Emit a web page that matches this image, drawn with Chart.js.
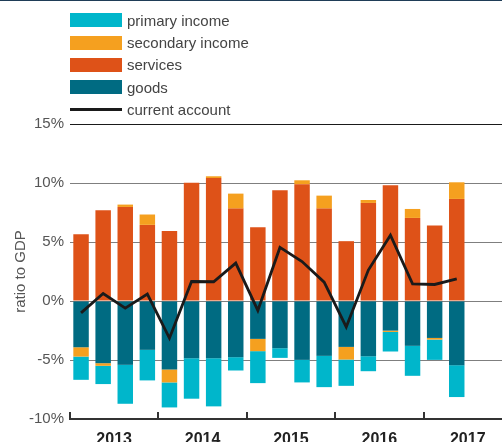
<!DOCTYPE html>
<html>
<head>
<meta charset="utf-8">
<script src="https://cdn.jsdelivr.net/npm/chart.js@4"></script>
<style>
  html, body { margin: 0; padding: 0; overflow: hidden; background: #fff; }
  #wrap { position: relative; width: 512px; height: 442px; }
  #topline { position: absolute; left: 0; top: 0; width: 512px; height: 1px; background: #1f3d57; }
  #legend { position: absolute; left: 70px; top: 9px; font: 15px "Liberation Sans", Arial, sans-serif; color: #444; }
  #legend .row { display: flex; align-items: center; height: 22.4px; }
  #legend .box { width: 52px; height: 14px; margin-right: 5px; }
  #legend .line { width: 52px; height: 3px; margin-right: 5px; background: #1a1a1a; }
</style>
</head>
<body>
<div id="wrap">
  <canvas id="chart"></canvas>
  <div id="topline"></div>
  <div id="legend"></div>
</div>
<script>
// quarters 2013 Q1 .. 2017 Q4 (last two quarters have no data yet)
const quarters = ['2013 Q1','2013 Q2','2013 Q3','2013 Q4','2014 Q1','2014 Q2','2014 Q3','2014 Q4',
  '2015 Q1','2015 Q2','2015 Q3','2015 Q4','2016 Q1','2016 Q2','2016 Q3','2016 Q4',
  '2017 Q1','2017 Q2','2017 Q3','2017 Q4'];
const years = ['2013', '2014', '2015', '2016', '2017'];

// components, % of GDP
const goods = [-3.92, -5.27, -5.41, -4.14, -5.80, -4.85, -4.85, -4.76, -3.21, -4.00, -4.99, -4.65, -3.89, -4.68, -2.51, -3.80, -3.13, -5.44];
const services = [5.66, 7.69, 7.97, 6.45, 5.94, 10.03, 10.42, 7.83, 6.26, 9.38, 9.89, 7.83, 5.07, 8.31, 9.81, 7.04, 6.40, 8.65];
const secondaryIncome = [-0.79, -0.22, 0.20, 0.88, -1.10, 0, 0.15, 1.27, -1.04, 0, 0.34, 1.10, -1.07, 0.25, -0.11, 0.76, -0.14, 1.41];
const primaryIncome = [-1.97, -1.55, -3.30, -2.59, -2.12, -3.43, -4.08, -1.13, -2.71, -0.82, -1.91, -2.65, -2.23, -1.27, -1.66, -2.54, -1.72, -2.70];
const currentAccount = [-1.01, 0.63, -0.60, 0.59, -3.15, 1.65, 1.63, 3.21, -0.80, 4.54, 3.34, 1.60, -2.20, 2.62, 5.58, 1.45, 1.40, 1.88];

const colors = {
  primary: '#00b6cb',
  secondary: '#f5a01f',
  services: '#de5218',
  goods: '#006b82',
  line: '#1a1a1a'
};
const fontFamily = '"Liberation Sans", Arial, sans-serif';

// legend (same order as the reference)
const legendItems = [
  { label: 'primary income', color: colors.primary },
  { label: 'secondary income', color: colors.secondary },
  { label: 'services', color: colors.services },
  { label: 'goods', color: colors.goods },
  { label: 'current account', line: true }
];
const legendEl = document.getElementById('legend');
legendItems.forEach(item => {
  const row = document.createElement('div');
  row.className = 'row';
  const mark = document.createElement('span');
  if (item.line) {
    mark.className = 'line';
  } else {
    mark.className = 'box';
    mark.style.background = item.color;
  }
  const txt = document.createElement('span');
  txt.textContent = item.label;
  row.appendChild(mark);
  row.appendChild(txt);
  legendEl.appendChild(row);
});

// upward tick marks at year boundaries on the x axis
const yearTicks = {
  id: 'yearTicks',
  afterDraw(chart) {
    const xs = chart.scales.x;
    const half = (xs.getPixelForValue(1) - xs.getPixelForValue(0)) / 2;
    const ctx = chart.ctx;
    const bottom = chart.chartArea.bottom;
    ctx.save();
    ctx.strokeStyle = '#333';
    ctx.lineWidth = 2;
    for (let i = 0; i < quarters.length; i += 4) {
      const x = Math.round(xs.getPixelForValue(i) - half);
      ctx.beginPath();
      ctx.moveTo(x, bottom + 1);
      ctx.lineTo(x, bottom - 7);
      ctx.stroke();
    }
    ctx.restore();
  }
};

const barSet = (label, data, color) => ({
  type: 'bar', label, data, backgroundColor: color, stack: 'cab', order: 1,
  barPercentage: 0.7, categoryPercentage: 1
});

new Chart(document.getElementById('chart'), {
  data: {
    labels: quarters,
    datasets: [
      barSet('goods', goods, colors.goods),
      barSet('services', services, colors.services),
      barSet('secondary income', secondaryIncome, colors.secondary),
      barSet('primary income', primaryIncome, colors.primary),
      {
        type: 'line', label: 'current account', data: currentAccount, stack: 'ca', order: 0,
        borderColor: colors.line, borderWidth: 2.8, pointRadius: 0, tension: 0, fill: false
      }
    ]
  },
  options: {
    responsive: true,
    maintainAspectRatio: false,
    animation: false,
    layout: { padding: { top: 124, bottom: 0, left: 0, right: 0 } },
    plugins: { legend: { display: false }, tooltip: { enabled: false } },
    scales: {
      x: {
        stacked: true,
        grid: { display: false },
        border: { display: true, color: '#333', width: 2 },
        afterFit(scale) { scale.height = 23; },
        ticks: {
          autoSkip: false, maxRotation: 0, padding: 3, labelOffset: 11,
          color: '#222', font: { family: fontFamily, size: 16, weight: 'bold' },
          callback: (v, i) => i % 4 === 1 ? years[Math.floor(i / 4)] : ''
        }
      },
      y: {
        stacked: true,
        min: -10, max: 15,
        afterFit(scale) { scale.width = 70; },
        border: { display: false },
        grid: {
          drawTicks: false,
          lineWidth: 1,
          color: ctx => ctx.tick.value === 15 ? '#1a1a1a' : (ctx.tick.value === -10 ? 'rgba(0,0,0,0)' : '#7f7f7f')
        },
        ticks: {
          stepSize: 5, padding: 6, color: '#555',
          font: { family: fontFamily, size: 15 },
          callback: v => v + '%'
        },
        title: {
          display: true, text: 'ratio to GDP', color: '#555',
          font: { family: fontFamily, size: 15 },
          padding: { top: 12, bottom: 0 }
        }
      }
    }
  },
  plugins: [yearTicks]
});
</script>
</body>
</html>
